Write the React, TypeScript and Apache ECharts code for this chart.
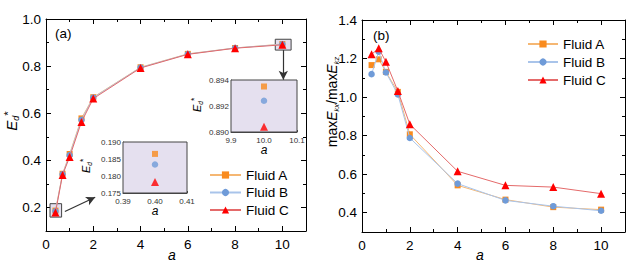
import React, { useEffect, useRef } from "react";
import * as echarts from "echarts";

const aValues = [0.4, 0.7, 1, 1.5, 2, 4, 6, 8, 10];
const edA = [0.1865, 0.343, 0.427, 0.578, 0.668, 0.795, 0.852, 0.877, 0.8935];
const edB = [0.1834, 0.341, 0.422, 0.572, 0.666, 0.794, 0.851, 0.877, 0.8924];
const edC = [0.1782, 0.338, 0.414, 0.563, 0.662, 0.792, 0.85, 0.876, 0.8904];
const ratioA = [1.166, 1.196, 1.131, 1.027, 0.807, 0.542, 0.468, 0.429, 0.416];
const ratioB = [1.119, 1.235, 1.128, 1.014, 0.788, 0.551, 0.464, 0.434, 0.41];
const ratioC = [1.222, 1.253, 1.183, 1.031, 0.859, 0.615, 0.542, 0.533, 0.499];
const seriesNames = ["Fluid A", "Fluid B", "Fluid C"];
const leftYTicks = [0.2, 0.4, 0.6, 0.8, 1.0];
const rightYTicks = [0.4, 0.6, 0.8, 1.0, 1.2, 1.4];
const xTickLabels = [0, 2, 4, 6, 8, 10];

const FONT = "Liberation Sans, Arial, sans-serif";
const markerColors = ["#f98b1e", "#6f9bd8", "#ff0000"];
const lineColors = ["#f5b773", "#a9c4ea", "#e46a6a"];
const symbols = ["rect", "circle", "triangle"];
const symbolSizes = [6, 6.5, 8];
const INSET_BG = "#e5e0ef";
const DARK = "#444";

function mainXAxis(gridIndex: number, position: "bottom" | "top", labels: boolean) {
  return {
    type: "value",
    gridIndex,
    position,
    min: 0,
    max: 11,
    interval: 2,
    axisLine: { show: true, onZero: false, lineStyle: { color: "#000", width: 1 } },
    axisTick: { show: true, inside: true, length: 5, lineStyle: { color: "#000" } },
    minorTick: { show: true, splitNumber: 2, length: 3, lineStyle: { color: "#000" } },
    splitLine: { show: false },
    axisLabel: {
      show: labels,
      color: "#000",
      fontSize: 13.5,
      fontFamily: FONT,
      margin: 6,
      customValues: xTickLabels,
      formatter: (v: number) => String(v),
    },
  };
}

function majorYAxis(gridIndex: number, position: "left" | "right", min: number, max: number, ticks: number[], labels: boolean) {
  return {
    type: "value",
    gridIndex,
    position,
    min,
    max,
    axisLine: { show: true, onZero: false, lineStyle: { color: "#000", width: 1 } },
    axisTick: { show: true, inside: true, length: 5, customValues: ticks, lineStyle: { color: "#000" } },
    splitLine: { show: false },
    axisLabel: {
      show: labels,
      color: "#000",
      fontSize: 13.5,
      fontFamily: FONT,
      margin: 5,
      customValues: ticks,
      formatter: (v: number) => v.toFixed(1),
    },
  };
}

function minorYAxis(gridIndex: number, position: "left" | "right", min: number, max: number) {
  return {
    type: "value",
    gridIndex,
    position,
    min,
    max,
    interval: 0.1,
    axisLine: { show: false, onZero: false },
    axisTick: { show: true, inside: true, length: 3, lineStyle: { color: "#000" } },
    splitLine: { show: false },
    axisLabel: { show: false },
  };
}

function insetAxis(gridIndex: number, min: number, max: number, interval: number, digits: number, margin: number) {
  return {
    type: "value",
    gridIndex,
    min,
    max,
    interval,
    axisLine: { show: true, onZero: false, lineStyle: { color: DARK, width: 1 } },
    axisTick: { show: true, inside: true, length: 2, lineStyle: { color: DARK } },
    splitLine: { show: false },
    axisLabel: {
      color: "#333",
      fontSize: 8,
      fontFamily: FONT,
      margin,
      formatter: (v: number) => v.toFixed(digits),
    },
  };
}

function edLabel(x: number, y: number, big: number) {
  return {
    type: "text",
    x,
    y,
    rotation: Math.PI / 2,
    style: {
      text: "{e|E}{d|d}{s|*}",
      align: "center",
      verticalAlign: "middle",
      fill: "#000",
      rich: {
        e: { fontSize: big, fontStyle: "italic", fontFamily: FONT, lineHeight: big * 1.2, fill: "#000" },
        d: { fontSize: big * 0.6, fontStyle: "italic", fontFamily: FONT, verticalAlign: "bottom", lineHeight: big * 0.6, fill: "#000" },
        s: { fontSize: big * 0.75, fontFamily: FONT, verticalAlign: "top", lineHeight: big * 0.75, fill: "#000" },
      },
    },
  };
}

function italicA(x: number, y: number, size: number) {
  return {
    type: "text",
    x,
    y,
    style: { text: "a", fontSize: size, fontStyle: "italic", fontFamily: FONT, fill: "#000", align: "center", verticalAlign: "middle" },
  };
}

export default function App() {
  const ref = useRef<HTMLDivElement>(null);

  useEffect(() => {
    if (!ref.current) return;
    const chart = echarts.init(ref.current, null, { renderer: "svg" });
    const edData = [edA, edB, edC];
    const ratioData = [ratioA, ratioB, ratioC];

    const series: any[] = [];
    seriesNames.forEach((name, i) => {
      const s: any = {
        name,
        type: "line",
        xAxisIndex: 0,
        yAxisIndex: 0,
        data: aValues.map((a, k) => [a, edData[i][k]]),
        symbol: symbols[i],
        symbolSize: symbolSizes[i],
        itemStyle: { color: markerColors[i] },
        lineStyle: { color: lineColors[i], width: 1 },
        z: 3 + i,
      };
      if (i === 0) {
        s.markArea = {
          silent: true,
          itemStyle: { color: INSET_BG, borderColor: DARK, borderWidth: 1 },
          label: { show: false },
          data: [
            [{ coord: [0.17, 0.159] }, { coord: [0.66, 0.216] }],
            [{ coord: [9.7, 0.868] }, { coord: [10.37, 0.914] }],
          ],
        };
        s.markLine = {
          silent: true,
          symbol: ["none", "arrow"],
          symbolSize: [7, 9],
          label: { show: false },
          lineStyle: { color: "#333", width: 1.2, type: "solid" },
          data: [
            [{ coord: [0.8, 0.183] }, { coord: [2.08, 0.243] }],
            [{ coord: [10.04, 0.868] }, { coord: [10.04, 0.742] }],
          ],
        };
      }
      series.push(s);
    });
    seriesNames.forEach((name, i) => {
      series.push({
        name: name + " inset1",
        type: "scatter",
        xAxisIndex: 2,
        yAxisIndex: 4,
        data: [[aValues[0], edData[i][0]]],
        symbol: symbols[i],
        symbolSize: symbolSizes[i],
        itemStyle: { color: markerColors[i] },
        z: 20,
      });
    });
    seriesNames.forEach((name, i) => {
      series.push({
        name: name + " inset2",
        type: "scatter",
        xAxisIndex: 3,
        yAxisIndex: 5,
        data: [[aValues[8], edData[i][8]]],
        symbol: symbols[i],
        symbolSize: symbolSizes[i],
        itemStyle: { color: markerColors[i] },
        z: 20,
      });
    });
    seriesNames.forEach((name, i) => {
      series.push({
        name,
        type: "line",
        xAxisIndex: 4,
        yAxisIndex: 6,
        data: aValues.map((a, k) => [a, ratioData[i][k]]),
        symbol: symbols[i],
        symbolSize: symbolSizes[i],
        itemStyle: { color: markerColors[i] },
        lineStyle: { color: lineColors[i], width: 1 },
        z: 3 + i,
      });
    });

    const legendRowsLeft = [175, 192.5, 210];
    const legendRowsRight = [44, 62, 80];
    const legends: any[] = [];
    seriesNames.forEach((name, i) => {
      legends.push({
        data: [name],
        left: 209,
        top: legendRowsLeft[i] - 7,
        itemWidth: 31,
        itemHeight: 9,
        itemGap: 0,
        padding: 0,
        selectedMode: false,
        textStyle: { fontSize: 13.5, fontFamily: FONT, color: "#000", lineHeight: 14 },
      });
      legends.push({
        data: [name],
        left: 527,
        top: legendRowsRight[i] - 7,
        itemWidth: 30,
        itemHeight: 9,
        itemGap: 0,
        padding: 0,
        selectedMode: false,
        textStyle: { fontSize: 13.5, fontFamily: FONT, color: "#000", lineHeight: 14 },
      });
    });

    chart.setOption({
      animation: false,
      backgroundColor: "#fff",
      textStyle: { fontFamily: FONT },
      grid: [
        { left: 46, top: 19, width: 260, height: 212 },
        { left: 123, top: 142, width: 64, height: 51, show: true, backgroundColor: INSET_BG, borderColor: DARK, borderWidth: 1, z: 10 },
        { left: 231, top: 80, width: 66, height: 52, show: true, backgroundColor: INSET_BG, borderColor: DARK, borderWidth: 1, z: 10 },
        { left: 362, top: 20, width: 263, height: 212 },
      ],
      xAxis: [
        mainXAxis(0, "bottom", true),
        mainXAxis(0, "top", false),
        insetAxis(1, 0.39, 0.41, 0.01, 2, 4),
        insetAxis(2, 9.9, 10.1, 0.1, 1, 4),
        mainXAxis(3, "bottom", true),
        mainXAxis(3, "top", false),
      ],
      yAxis: [
        majorYAxis(0, "left", 0.1, 1.0, leftYTicks, true),
        minorYAxis(0, "left", 0.1, 1.0),
        majorYAxis(0, "right", 0.1, 1.0, leftYTicks, false),
        minorYAxis(0, "right", 0.1, 1.0),
        insetAxis(1, 0.175, 0.19, 0.005, 3, 2),
        insetAxis(2, 0.89, 0.894, 0.002, 3, 2),
        majorYAxis(3, "left", 0.3, 1.4, rightYTicks, true),
        minorYAxis(3, "left", 0.3, 1.4),
        majorYAxis(3, "right", 0.3, 1.4, rightYTicks, false),
        minorYAxis(3, "right", 0.3, 1.4),
      ],
      legend: legends,
      series,
      graphic: [
        edLabel(11, 121, 15),
        edLabel(86, 166, 11),
        edLabel(197, 105, 11),
        italicA(172, 255, 14),
        italicA(480, 255, 14),
        italicA(155, 211, 12),
        italicA(264, 150, 12),
        {
          type: "text",
          x: 55,
          y: 33,
          style: { text: "(a)", fontSize: 13.5, fontFamily: FONT, fill: "#000", verticalAlign: "middle" },
        },
        {
          type: "text",
          x: 373,
          y: 35,
          style: { text: "(b)", fontSize: 13.5, fontFamily: FONT, fill: "#000", verticalAlign: "middle" },
        },
        {
          type: "text",
          x: 332,
          y: 102,
          rotation: Math.PI / 2,
          style: {
            text: "{n|max}{e|E}{k|kx}{n|/max}{e|E}{k|kz}",
            align: "center",
            verticalAlign: "middle",
            rich: {
              n: { fontSize: 14, fontFamily: FONT, lineHeight: 17, fill: "#000" },
              e: { fontSize: 14, fontStyle: "italic", fontFamily: FONT, lineHeight: 17, fill: "#000" },
              k: { fontSize: 7.5, fontStyle: "italic", fontFamily: FONT, verticalAlign: "bottom", lineHeight: 7.5, fill: "#000" },
            },
          },
        },
      ],
    });
    return () => chart.dispose();
  }, []);

  return (
    <div
      ref={ref}
      style={{ position: "fixed", left: 0, top: 0, width: 641, height: 265, background: "#fff" }}
    />
  );
}
